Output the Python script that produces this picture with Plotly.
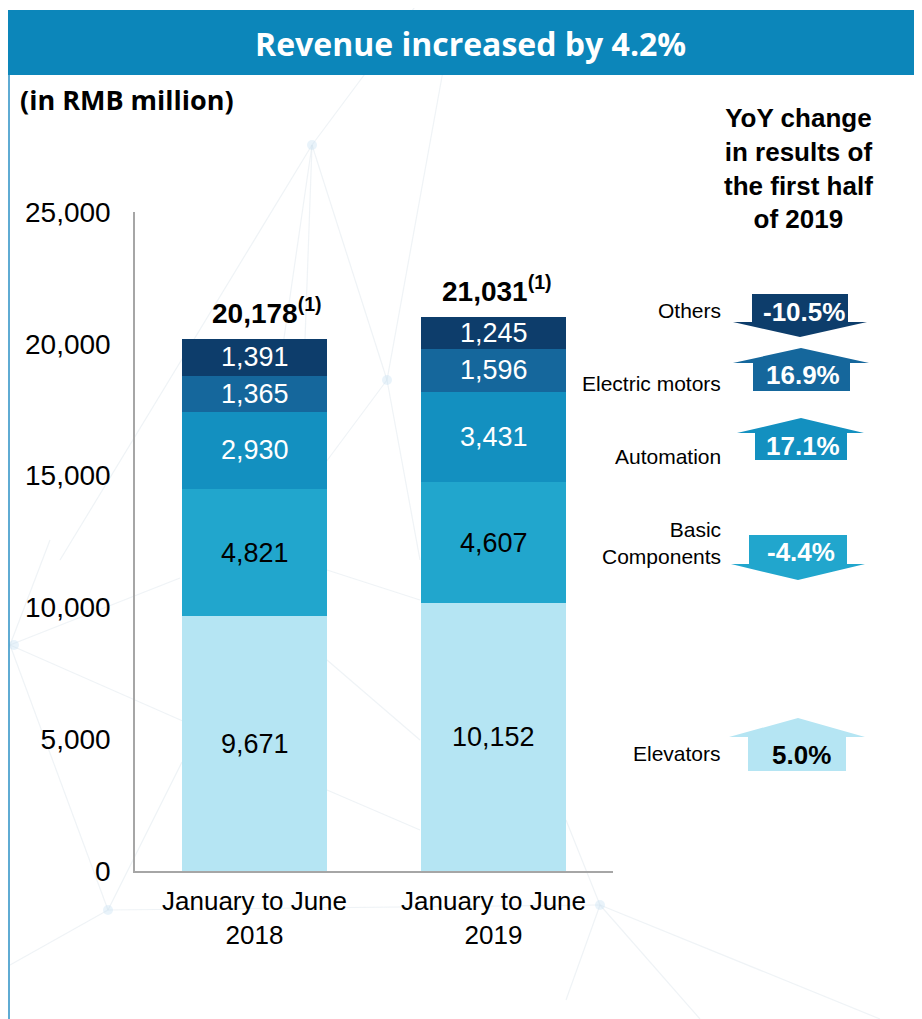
import plotly.graph_objects as go

# ---------------- data ----------------
periods = ["January to June<br>2018", "January to June<br>2019"]
segments = ["Elevators", "Basic Components", "Automation", "Electric motors", "Others"]
values_2018 = [9671, 4821, 2930, 1365, 1391]
values_2019 = [10152, 4607, 3431, 1596, 1245]
yoy_change = [5.0, -4.4, 17.1, 16.9, -10.5]
segment_labels = ["Elevators", "Basic<br>Components", "Automation", "Electric motors", "Others"]
y_ticks = [0, 5000, 10000, 15000, 20000, 25000]

# ---------------- style ----------------
colors = ["#B5E5F3", "#21A6CD", "#1390C0", "#15679C", "#0D3D6B"]
text_colors = ["black", "black", "white", "white", "white"]
arrow_text_colors = ["black", "white", "white", "white", "white"]
total_xshift = [12, 3]
W, H = 922, 1019
OX, OY = 8, 8  # page body margin offset
FONT = "Liberation Sans, Arial, sans-serif"
HEAD_FONT = "Open Sans, sans-serif"


def px(x):
    return (x - OX) / W


def py(y):
    return 1 - (y - OY) / H


def note(x, y, text, size, color="black", family=FONT, xanchor="center", align="center"):
    return dict(x=px(x), y=py(y), xref="paper", yref="paper", xanchor=xanchor,
                yanchor="middle", align=align, text=text, showarrow=False,
                font=dict(family=family, size=size, color=color))


fig = go.Figure()
series = [values_2018, values_2019]
for i, seg in enumerate(segments):
    fig.add_trace(go.Bar(
        x=periods, y=[values_2018[i], values_2019[i]], name=seg,
        marker=dict(color=colors[i], line=dict(width=0)),
        showlegend=False, hoverinfo="name+y"))

annotations = []
shapes = []

# segment value labels (placed at the middle of each segment)
for j, vals in enumerate(series):
    cum = 0
    for i, v in enumerate(vals):
        annotations.append(dict(
            x=periods[j], y=cum + v / 2, xref="x", yref="y",
            xanchor="center", yanchor="middle",
            text=f"{v:,}", showarrow=False,
            font=dict(family=FONT, size=27, color=text_colors[i])))
        cum += v
    annotations.append(dict(
        x=periods[j], y=cum, xref="x", yref="y", xanchor="center",
        yanchor="bottom", yshift=8, xshift=total_xshift[j],
        text=f"<b>{cum:,}</b><sup><b>(1)</b></sup>", showarrow=False,
        font=dict(family=FONT, size=28, color="black")))

# ---------------- decorative background network ----------------
net_lines = [
    ((312, 145), (60, 560)), ((312, 145), (283, 345)), ((312, 145), (305, 340)),
    ((312, 145), (387, 380)), ((387, 380), (420, 560)), ((387, 380), (320, 470)),
    ((312, 145), (420, 0)), ((387, 380), (445, 60)),
    ((10, 645), (180, 578)), ((10, 645), (185, 722)), ((10, 645), (108, 910)),
    ((108, 910), (600, 905)), ((108, 910), (10, 965)), ((108, 910), (182, 762)),
    ((327, 570), (420, 600)), ((327, 790), (420, 830)), ((327, 660), (420, 740)),
    ((566, 1000), (600, 905)), ((600, 905), (880, 1019)), ((600, 905), (700, 1019)),
    ((566, 820), (600, 905)), ((50, 540), (10, 645)),
]
for (x0, y0), (x1, y1) in net_lines:
    shapes.append(dict(type="line", xref="paper", yref="paper", layer="below",
                       x0=px(x0), y0=py(y0), x1=px(x1), y1=py(y1),
                       line=dict(color="rgba(220,228,235,0.45)", width=1.2)))
for (nx, ny) in [(312, 145), (387, 380), (14, 645), (108, 910), (600, 905)]:
    shapes.append(dict(type="circle", xref="paper", yref="paper", layer="below",
                       x0=px(nx - 5), x1=px(nx + 5), y0=py(ny + 5), y1=py(ny - 5),
                       fillcolor="rgba(200,225,242,0.4)", line=dict(width=0)))

# ---------------- header ----------------
shapes.append(dict(type="rect", xref="paper", yref="paper",
                   x0=px(8), x1=px(930), y0=py(75), y1=py(10),
                   fillcolor="#0C86BA", line=dict(width=0)))
shapes.append(dict(type="line", xref="paper", yref="paper",
                   x0=px(9), x1=px(9), y0=py(75), y1=0,
                   line=dict(color="#2A8FC4", width=1.5)))
annotations.append(note(470, 43, "<b>Revenue increased by 4.2%</b>", 32, "white",
                        family=HEAD_FONT))
annotations.append(note(18, 99, "<b>(in RMB million)</b>", 27, family=HEAD_FONT,
                        xanchor="left", align="left"))
annotations.append(note(798, 168, "<b>YoY change<br>in results of<br>the first half<br>of 2019</b>",
                        26))

# ---------------- YoY arrows (layout geometry, one per segment) ----------------
# body_x0, body_x1, head_x0, head_x1, tip_x, y_a, y_b, y_c, label_y, value_x, value_y
arrow_geom = {
    "Others": (752, 848, 733, 867, 800, 294, 322, 337, 310, 804, 312),
    "Electric motors": (753, 850, 733, 869, 801, 348, 363, 391, 383, 803, 375),
    "Automation": (755, 847, 737, 864, 801, 418, 433, 460, 456, 803, 446),
    "Basic Components": (749, 847, 731, 865, 798, 535, 564, 580, 543, 801, 552),
    "Elevators": (748, 846, 729, 865, 798, 718, 737, 771, 753, 801, 755),
}
for i, seg in enumerate(segments):
    bx0, bx1, hx0, hx1, tx, ya, yb, yc, ly, vx, vy = arrow_geom[seg]
    if yoy_change[i] < 0:
        pts = [(bx0, ya), (bx1, ya), (bx1, yb), (hx1, yb), (tx, yc), (hx0, yb), (bx0, yb)]
    else:
        pts = [(tx, ya), (hx1, yb), (bx1, yb), (bx1, yc), (bx0, yc), (bx0, yb), (hx0, yb)]
    path = "M " + " L ".join(f"{px(x):.5f},{py(y):.5f}" for x, y in pts) + " Z"
    shapes.append(dict(type="path", xref="paper", yref="paper", path=path,
                       fillcolor=colors[i], line=dict(width=0)))
    annotations.append(note(723, ly, segment_labels[i], 21, xanchor="right", align="right"))
    annotations.append(note(vx, vy, f"<b>{yoy_change[i]:.1f}%</b>", 26, arrow_text_colors[i]))

fig.update_layout(
    width=W, height=H, barmode="stack", bargap=0.39,
    margin=dict(l=0, r=0, t=0, b=0, pad=0, autoexpand=False),
    paper_bgcolor="white", plot_bgcolor="rgba(0,0,0,0)",
    font=dict(family=FONT, color="black"),
    shapes=shapes, annotations=annotations,
    xaxis=dict(domain=[px(135), px(613)], showline=True, linecolor="#A6A6A6",
               linewidth=1.5, showgrid=False, ticks="", ticklabelstandoff=6,
               automargin=False,
               tickfont=dict(family=FONT, size=26, color="black"), fixedrange=True),
    yaxis=dict(domain=[py(871), py(212)], range=[0, 25000], showline=True,
               linecolor="#A6A6A6", linewidth=1.5, showgrid=False, zeroline=False,
               tickvals=y_ticks, ticktext=[f"{v:,}" for v in y_ticks], ticks="",
               ticklabelstandoff=17, automargin=False,
               tickfont=dict(family=FONT, size=28, color="black"), fixedrange=True),
)

fig.write_html("out.html")
